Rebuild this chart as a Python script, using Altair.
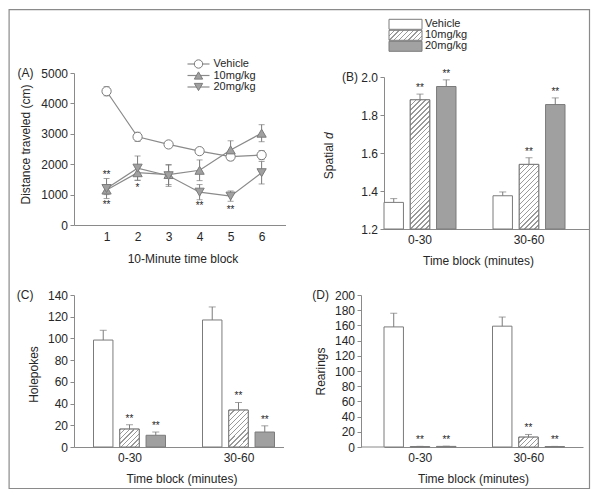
import altair as alt
import pandas as pd

FONT = "Liberation Sans"
AXIS = "#8a8a8a"
EDGE = "#7b7b7b"
TEXT = "#262626"
STIPPLE = "#a2a2a2"
HATCH = "#9a9a9a"

series = ["Vehicle", "10mg/kg", "20mg/kg"]

# ---------------- (A) distance traveled ----------------
blocks = [1, 2, 3, 4, 5, 6]
dist_vehicle = [4400, 2900, 2650, 2430, 2250, 2300]
dist_vehicle_err = [150, 150, 90, 100, 130, 150]
dist_10 = [1150, 1720, 1660, 1800, 2470, 3020]
dist_10_err = [150, 250, 330, 340, 300, 280]
dist_20 = [1200, 1870, 1620, 1080, 950, 1720]
dist_20_err = [330, 400, 350, 250, 170, 370]
stars_a_block = [1, 1, 2, 4, 5]
stars_a_value = [1727, 747, 1306, 700, 570]
stars_a_text = ["**", "**", "*", "**", "**"]

# ---------------- (B)-(D) bar panels ----------------
time_blocks = ["0-30", "30-60"]

spatial_vehicle = [1.34, 1.375]
spatial_vehicle_err = [0.02, 0.02]
spatial_10 = [1.88, 1.54]
spatial_10_err = [0.03, 0.035]
spatial_20 = [1.95, 1.855]
spatial_20_err = [0.035, 0.035]
spatial_stars_vehicle = ["", ""]
spatial_stars_10 = ["**", "**"]
spatial_stars_20 = ["**", "**"]

hole_vehicle = [98.5, 117.0]
hole_vehicle_err = [9.0, 12.0]
hole_10 = [16.5, 34.0]
hole_10_err = [4.0, 7.0]
hole_20 = [10.8, 13.8]
hole_20_err = [3.0, 5.7]
hole_stars_vehicle = ["", ""]
hole_stars_10 = ["**", "**"]
hole_stars_20 = ["**", "**"]

rear_vehicle = [158.0, 159.0]
rear_vehicle_err = [18.0, 12.0]
rear_10 = [0.6, 13.0]
rear_10_err = [0.3, 3.5]
rear_20 = [0.8, 0.6]
rear_20_err = [0.3, 0.2]
rear_stars_vehicle = ["", ""]
rear_stars_10 = ["**", "**"]
rear_stars_20 = ["**", "**"]

# ---------------- layout ----------------
PH = 152
B_SHIFT = 4
COL_GAP = 98
ROW_GAP = 66
SUB_PI = 0.26

one = pd.DataFrame({"k": [0]})


def band_params(width, left_gap, group_w, group_step):
    pi = 1 - group_w / group_step
    po = (width / group_step - 2 + pi) / 2
    outer = width - group_step * (2 - pi)
    align = left_gap / outer if outer > 0 else 0.5
    return pi, po, min(max(align, 0), 1)


def hatch(w, h, period=5.0, frac=0.26):
    t_x = (w + h) * w / (w * w + h * h)
    t_y = (w + h) * h / (w * w + h * h)
    n = max(1, int(round((w + h) / period)))
    stops = []
    for k in range(n):
        a = k / n
        b = (k + frac) / n
        c = (k + 1) / n
        stops += [
            {"offset": a, "color": HATCH},
            {"offset": b, "color": HATCH},
            {"offset": b, "color": "white"},
            {"offset": c, "color": "white"},
        ]
    return {"gradient": "linear", "x1": 0, "y1": 0, "x2": t_x, "y2": t_y, "stops": stops}


def label(txt, x, y):
    return alt.Chart(one).mark_text(
        text=txt, align="right", baseline="middle", fontSize=12, font=FONT, color=TEXT
    ).encode(x=alt.value(x), y=alt.value(y))


# ---------------- panel A ----------------
WA = 211.5
rows = []
for s, vals, errs in zip(series, [dist_vehicle, dist_10, dist_20],
                         [dist_vehicle_err, dist_10_err, dist_20_err]):
    for b, v, e in zip(blocks, vals, errs):
        rows.append({"block": b, "series": s, "value": v, "lo": v - e, "hi": v + e})
df_a = pd.DataFrame(rows)
df_sa = pd.DataFrame({"block": stars_a_block, "value": stars_a_value, "txt": stars_a_text})

axis_xa = alt.Axis(values=blocks, title="10-Minute time block", ticks=False, labelPadding=6,
                   titleX=108.5, titleY=33, titleBaseline="middle", titleAlign="center",
                   titleFontWeight="normal")
axis_ya = alt.Axis(values=[0, 1000, 2000, 3000, 4000, 5000], format="d",
                   title="Distance traveled (cm)", titleX=-49, titleY=71, titleAngle=270,
                   titleAlign="center", titleBaseline="middle", titleFontWeight="normal")


def xa(f):
    return alt.X(f"{f}:Q", scale=alt.Scale(domain=[-0.05, 6.77], nice=False, zero=False), axis=axis_xa)


def ya(f):
    return alt.Y(f"{f}:Q", scale=alt.Scale(domain=[0, 5000], nice=False), axis=axis_ya)


shape_scale = alt.Scale(domain=series, range=["circle", "triangle-up", "triangle-down"])
fill_scale_a = alt.Scale(domain=series, range=["white", "#a0a0a0", "#a0a0a0"])

base_a = alt.Chart(df_a)
a_lines = base_a.mark_line(color=AXIS, strokeWidth=1.2).encode(x=xa("block"), y=ya("value"), detail="series:N")
a_err = base_a.mark_rule(color=EDGE, strokeWidth=1).encode(x=xa("block"), y=ya("lo"), y2="hi:Q")
a_cap_lo = base_a.mark_tick(color=EDGE, orient="horizontal", size=6, thickness=1).encode(x=xa("block"), y=ya("lo"))
a_cap_hi = base_a.mark_tick(color=EDGE, orient="horizontal", size=6, thickness=1).encode(x=xa("block"), y=ya("hi"))
a_pts = base_a.mark_point(filled=True, stroke=EDGE, strokeWidth=1, size=85, opacity=1).encode(
    x=xa("block"), y=ya("value"),
    shape=alt.Shape("series:N", scale=shape_scale, legend=None),
    fill=alt.Fill("series:N", scale=fill_scale_a, legend=None),
)
a_stars = alt.Chart(df_sa).mark_text(fontSize=10, font=FONT, color=TEXT, baseline="alphabetic", dy=5.5).encode(
    x=xa("block"), y=ya("value"), text="txt:N")

LEG_A_Y = [-9 + 11.5 * i for i in range(3)]
leg_a = pd.DataFrame({"series": series, "ly": LEG_A_Y})
la_lines = alt.Chart(leg_a).mark_rule(color=AXIS, strokeWidth=1.2).encode(
    x=alt.value(113.5), x2=alt.value(135.5), y=alt.Y("ly:Q", scale=None))
la_pts = alt.Chart(leg_a).mark_point(filled=True, stroke=EDGE, strokeWidth=1, size=70, opacity=1).encode(
    x=alt.value(124.5), y=alt.Y("ly:Q", scale=None),
    shape=alt.Shape("series:N", scale=shape_scale, legend=None),
    fill=alt.Fill("series:N", scale=fill_scale_a, legend=None))
la_txt = alt.Chart(leg_a).mark_text(align="left", baseline="middle", fontSize=11, font=FONT, color=TEXT).encode(
    x=alt.value(139.5), y=alt.Y("ly:Q", scale=None), text="series:N")

border = alt.Chart(one).mark_rect(fill="transparent", stroke="#8a8a8a", strokeWidth=1.2).encode(
    x=alt.value(-64.9), x2=alt.value(515.5), y=alt.value(-63.4), y2=alt.value(415.5))

panel_a = alt.layer(border, a_lines, a_err, a_cap_lo, a_cap_hi, a_pts, a_stars,
                    la_lines, la_pts, la_txt, label("(A)", -40.5, 0)).properties(width=WA, height=PH)


# ---------------- bar panels ----------------
def bar_panel(vals, errs, stars, ymin, ymax, ystep, fmt, ytitle, ytitle_x, ytitle_y,
              xtitle_x, plab, plab_x, width, height, band, yrange=None, yoffset=0):
    pi, po, align = band
    rows = []
    for s, v, e, st in zip(series, vals, errs, stars):
        for b, vv, ee, ss in zip(time_blocks, v, e, st):
            rows.append({"block": b, "series": s, "value": vv, "top": vv + ee, "star": ss})
    df = pd.DataFrame(rows)
    base = alt.Chart(df)
    axis_x = alt.Axis(title="Time block (minutes)", labelAngle=0, ticks=False, labelPadding=5,
                      titleX=xtitle_x, titleY=31, titleBaseline="middle", titleAlign="center",
                      titleFontWeight="normal")
    x = alt.X("block:N", sort=time_blocks,
              scale=alt.Scale(domain=time_blocks, paddingInner=pi, paddingOuter=po, align=align),
              axis=axis_x)
    xo = alt.XOffset("series:N", sort=series,
                     scale=alt.Scale(domain=series, paddingInner=SUB_PI, paddingOuter=0))
    ticks = []
    v = ymin
    while v <= ymax + 1e-9:
        ticks.append(round(v, 4))
        v += ystep
    ay = dict(values=ticks, format=fmt, offset=yoffset)
    if ytitle:
        ay.update(title=ytitle, titleX=ytitle_x, titleY=ytitle_y, titleAngle=270,
                  titleAlign="center", titleBaseline="middle", titleFontWeight="normal")
    else:
        ay.update(title=None)
    axis_y = alt.Axis(**ay)
    sc = dict(domain=[ymin, ymax], nice=False, zero=False)
    if yrange is not None:
        sc["range"] = yrange
    yscale = alt.Scale(**sc)

    def y(f):
        return alt.Y(f"{f}:Q", scale=yscale, axis=axis_y)

    step = width / (2 - pi + 2 * po)
    sub_bw = step * (1 - pi) / (3 - SUB_PI) * (1 - SUB_PI)

    bars = base.mark_bar(stroke=EDGE, strokeWidth=1).encode(
        x=x, xOffset=xo, y=y("value"), y2=alt.datum(ymin),
        fill=alt.Fill("series:N", scale=alt.Scale(domain=series, range=["white", "white", STIPPLE]), legend=None))
    layers = [bars]
    for i, b in enumerate(time_blocks):
        h = (vals[1][i] - ymin) / (ymax - ymin) * PH
        if h > 3:
            layers.append(
                base.transform_filter((alt.datum.block == b) & (alt.datum.series == "10mg/kg"))
                .mark_bar(fill=hatch(sub_bw, h), stroke=EDGE, strokeWidth=1)
                .encode(x=x, xOffset=xo, y=y("value"), y2=alt.datum(ymin)))
    layers.append(base.mark_rule(color=EDGE, strokeWidth=1).encode(x=x, xOffset=xo, y=y("value"), y2="top:Q"))
    layers.append(base.mark_tick(color=EDGE, orient="horizontal", size=7, thickness=1).encode(
        x=x, xOffset=xo, y=y("top")))
    layers.append(base.mark_text(fontSize=10, font=FONT, color=TEXT, baseline="alphabetic", dy=-3).encode(
        x=x, xOffset=xo, y=y("top"), text="star:N"))
    layers.append(label(plab, plab_x, 0 if yrange is None else yrange[1]))
    if yoffset:
        # extend the x-axis line back to the displaced y-axis
        layers.append(alt.Chart(one).mark_rule(color=AXIS, strokeWidth=1).encode(
            x=alt.value(-yoffset), x2=alt.value(0), y=alt.value(height)))
    props = {"width": width, "height": height}
    return layers, props


# (B): axis at column origin, bars start at the axis
WB = 205
b_layers, b_props = bar_panel(
    [spatial_vehicle, spatial_10, spatial_20], [spatial_vehicle_err, spatial_10_err, spatial_20_err],
    [spatial_stars_vehicle, spatial_stars_10, spatial_stars_20], 1.2, 2.0, 0.2, ".1f",
    None, 0, 0, 94, "(B)", -26, WB, PH + B_SHIFT, band_params(WB, 0, 72, 109),
    yrange=[PH + B_SHIFT, B_SHIFT])
# custom y title "Spatial d"
b_layers.append(alt.Chart(one).mark_text(text="Spatial", angle=270, align="right", baseline="middle",
                                         fontSize=12, font=FONT, color=TEXT).encode(
    x=alt.value(-55), y=alt.value(69.5)))
b_layers.append(alt.Chart(one).mark_text(text="d", angle=270, align="left", baseline="middle",
                                         fontSize=12, font=FONT, fontStyle="italic", color=TEXT).encode(
    x=alt.value(-55), y=alt.value(66)))
# legend (B)
LEG_B_Y = [-48.7 + 11 * i for i in range(3)]
leg_fills = ["white", hatch(33, 10), STIPPLE]
for s, yc, f in zip(series, LEG_B_Y, leg_fills):
    b_layers.append(alt.Chart(one).mark_rect(fill=f, stroke=EDGE, strokeWidth=1).encode(
        x=alt.value(5), x2=alt.value(38), y=alt.value(yc - 5), y2=alt.value(yc + 5)))
    b_layers.append(alt.Chart(one).mark_text(text=s, align="left", baseline="middle", fontSize=11,
                                             font=FONT, color=TEXT).encode(
        x=alt.value(41), y=alt.value(yc)))
panel_b = alt.layer(*b_layers).properties(**b_props)

# (C)
WC = 209.5
c_layers, c_props = bar_panel(
    [hole_vehicle, hole_10, hole_20], [hole_vehicle_err, hole_10_err, hole_20_err],
    [hole_stars_vehicle, hole_stars_10, hole_stars_20], 0, 140, 20, "d",
    "Holepokes", -40.5, 79, 107.5, "(C)", -40.5, WC, PH, band_params(WC, 19.5, 73, 109))
panel_c = alt.layer(*c_layers).properties(**c_props)

# (D): y axis drawn 23 px left of the column origin
WD = 199
D_OFF = 23
d_layers, d_props = bar_panel(
    [rear_vehicle, rear_10, rear_20], [rear_vehicle_err, rear_10_err, rear_20_err],
    [rear_stars_vehicle, rear_stars_10, rear_stars_20], 0, 200, 20, "d",
    "Rearings", -41, 76, 89, "(D)", -55, WD, PH, band_params(WD, 0, 72.5, 108.5),
    yoffset=D_OFF)
panel_d = alt.layer(*d_layers).properties(**d_props)

chart = alt.concat(
    panel_a, panel_b, panel_c, panel_d, columns=2,
    spacing=alt.RowColnumber(row=ROW_GAP, column=COL_GAP), bounds="flush",
).properties(padding=0).configure_view(stroke="transparent").configure_axis(
    domainColor=AXIS, tickColor=AXIS, labelColor=TEXT, titleColor=TEXT,
    labelFont=FONT, titleFont=FONT, labelFontSize=12, titleFontSize=12,
    titleFontWeight="normal", grid=False, tickSize=4, labelPadding=2.5, domainWidth=1, tickWidth=1,
)

chart.save("out.html", embed_options={"renderer": "svg", "actions": False})
